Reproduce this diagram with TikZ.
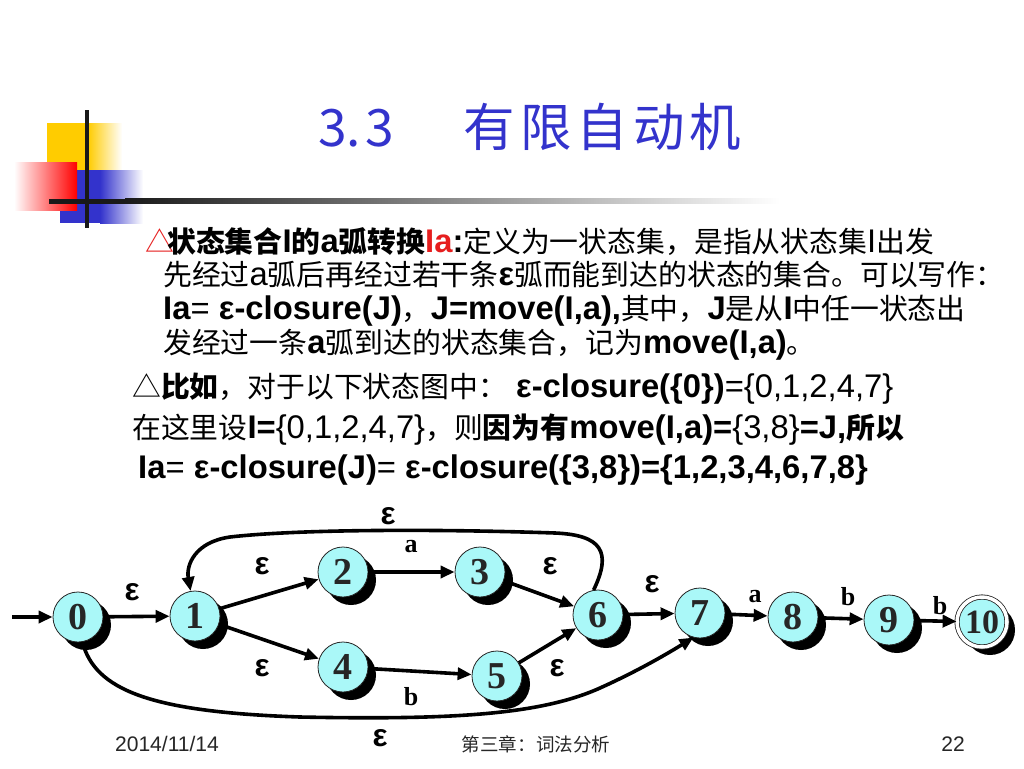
\documentclass[tikz,border=0pt]{standalone}
\usepackage{fontspec}
\setmainfont{Liberation Sans}[Scale=1.17]
\newfontfamily\cjk{Noto Sans CJK SC}[Scale=1.03]
\newfontfamily\tnr{Liberation Serif}
\usetikzlibrary{arrows.meta,shadows}
\newcommand\zh[1]{{\cjk #1}}
\definecolor{titleblue}{RGB}{51,51,204}
\definecolor{nodefill}{RGB}{170,248,248}
\definecolor{logoyellow}{RGB}{255,204,0}
\definecolor{logoblue}{RGB}{51,51,204}
\definecolor{hred}{RGB}{230,30,30}
\begin{document}
\begin{tikzpicture}[x=1pt,y=-1pt,
  state/.style={circle,draw=black!85,line width=0.8pt,fill=nodefill,minimum size=50pt,inner sep=0pt,
    font=\tnr\bfseries\fontsize{38}{38}\selectfont,text=black!85,
    drop shadow={shadow xshift=8pt,shadow yshift=-8pt,fill=black,opacity=1}},
  accept/.style={state,double=white,double distance=3.5pt,font=\tnr\bfseries\fontsize{34}{34}\selectfont},
  trans/.style={line width=3.6pt,-{Triangle[length=14pt,width=12pt]}},
  elab/.style={font=\bfseries\fontsize{27}{27}\selectfont,inner sep=0pt},
  llab/.style={font=\tnr\bfseries\fontsize{26}{26}\selectfont,inner sep=0pt},
  txt/.style={anchor=base west,inner sep=0pt,font=\fontsize{28}{34}\selectfont},
  foot/.style={anchor=base,inner sep=0pt,text=black!85,font=\fontsize{18}{20}\selectfont}
]
\useasboundingbox (0,0) rectangle (1024,768);
\fill[white] (0,0) rectangle (1024,768);

% logo
\fill[logoyellow] (47,123) rectangle (88,170);
\shade[left color=logoyellow,right color=white] (88,123) rectangle (122,170);
\fill[logoblue] (60,170) rectangle (100,223);
\shade[left color=logoblue,right color=white] (100,170) rectangle (143,223);
\shade[shading=axis,shading angle=45,left color=white,right color=red] (14,162) rectangle (77,210);
\fill[black!90] (49,198.5) rectangle (125,203.5);
\shade[left color=black!90,right color=white] (125,198.5) rectangle (780,203.5);
\fill[black!90] (85,110) rectangle (89,228);

% title
\node[anchor=west,inner sep=0pt,text=titleblue,font=\cjk\fontsize{50}{50}\selectfont] (title) at (318,127)
  {3.\kern4pt3\hspace{70pt}有\kern5pt限\kern5pt自\kern5pt动\kern5pt机};

% text
\node[txt] (l1a) at (145,252) {\zh{\color{hred}△}};
\node[txt] (l1) at (167,252) {\textbf{\zh{状态集合}I\zh{的}a\zh{弧转换}{\color{hred}Ia}:}\zh{定义为一状态集，是指从状态集}I\zh{出发}};
\node[txt] (l2) at (163,285) {\zh{先经过}a\zh{弧后再经过若干条}\textbf{ε}\zh{弧而能到达的状态的集合。可以写作：}};
\node[txt] (l3) at (163,319) {\textbf{Ia}= \textbf{ε-closure(J)}\zh{，}\textbf{J=move(I,a),}\zh{其中，}\textbf{J}\zh{是从}\textbf{I}\zh{中任一状态出}};
\node[txt] (l4) at (163,353) {\zh{发经过一条}\textbf{a}\zh{弧到达的状态集合，记为}\textbf{move(I,a)}\zh{。}};
\node[txt] (l5) at (132,397) {\zh{△\textbf{比如}，对于以下状态图中：} \textbf{ε-closure(\{0\})}=\{0,1,2,4,7\}};
\node[txt] (l6) at (132,438) {\zh{在这里设}\textbf{I=}\{0,1,2,4,7\}\zh{，则}\textbf{\zh{因为有}move(I,a)=}\{3,8\}\textbf{=J,\zh{所以}}};
\node[txt] (l7) at (138,478) {\textbf{Ia}= \textbf{ε-closure(J)}= \textbf{ε-closure(\{3,8\})=\{1,2,3,4,6,7,8\}}};

% states
\node[state] (n0) at (78,617) {0};
\node[state] (n1) at (195,616) {1};
\node[state] (n2) at (343,572) {2};
\node[state] (n3) at (480,572) {3};
\node[state] (n4) at (343,667) {4};
\node[state] (n5) at (497,676) {5};
\node[state] (n6) at (598,615) {6};
\node[state] (n7) at (700,613) {7};
\node[state] (n8) at (793,617) {8};
\node[state] (n9) at (889,620) {9};
\node[accept] (n10) at (982,622) {10};

% transitions
\coordinate (start) at (12,617);
\draw[trans] (start) -- (n0);
\draw[trans] (n0) -- (n1);
\draw[trans] (n1) -- (n2);
\draw[trans] (n1) -- (n4);
\draw[trans] (n2) -- (n3);
\draw[trans] (n4) -- (n5);
\draw[trans] (n3) -- (n6);
\draw[trans] (n5) -- (n6);
\draw[trans] (n6) -- (n7);
\draw[trans] (n7) -- (n8);
\draw[trans] (n8) -- (n9);
\draw[trans] (n9) -- (n10);
\draw[trans] (n6.100) .. controls (612,552) and (602,535) .. (555,533)
  .. controls (440,529) and (300,529) .. (230,537)
  .. controls (195,542) and (186,565) .. (n1.100);
\draw[trans] (n0.-80) .. controls (95,690) and (150,712) .. (300,717)
  .. controls (450,720) and (540,715) .. (600,688)
  .. controls (640,670) and (670,652) .. (n7.-105);

% labels
\node[elab] (e01) at (132,592) {ε};
\node[elab] (e12) at (262,566) {ε};
\node[elab] (e14) at (262,668) {ε};
\node[llab] (a23) at (411,547) {a};
\node[llab] (b45) at (411,697) {b};
\node[elab] (e36) at (550,566) {ε};
\node[elab] (e56) at (557,668) {ε};
\node[elab] (e61) at (388,516) {ε};
\node[elab] (e07) at (380,738) {ε};
\node[elab] (e67) at (652,584) {ε};
\node[llab] (a78) at (755,597) {a};
\node[llab] (b89) at (848,597) {b};
\node[llab] (b910) at (940,606) {b};

% footer
\node[foot] (date) at (167,751) {2014/11/14};
\node[foot] (chap) at (536,751) {\zh{第三章：词法分析}};
\node[foot] (page) at (953,751) {22};
\end{tikzpicture}
\end{document}
